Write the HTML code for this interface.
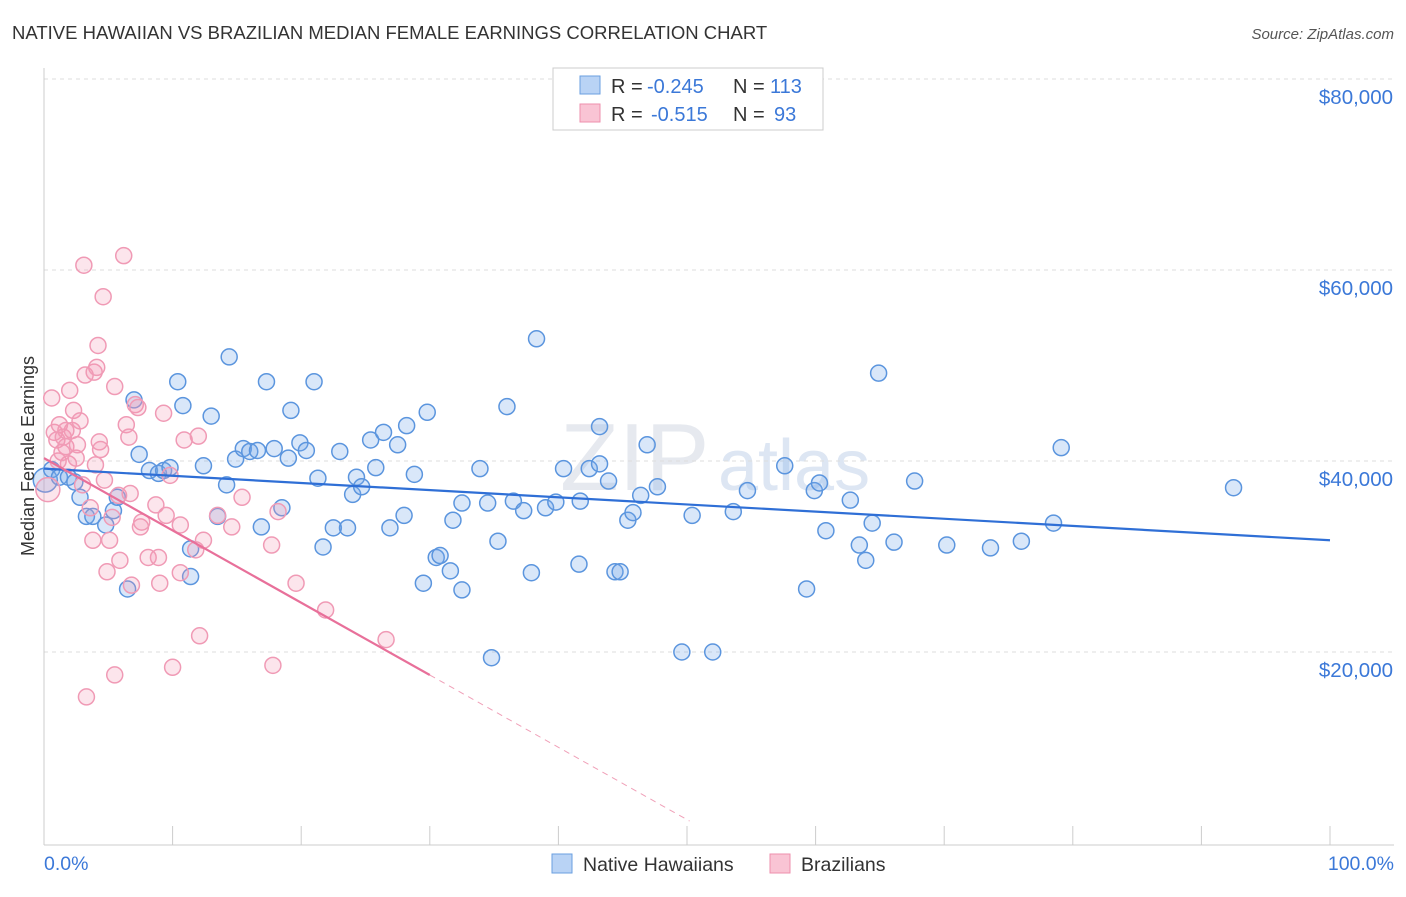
<!DOCTYPE html>
<html><head><meta charset="utf-8"><style>
body{margin:0;background:#fff;font-family:"Liberation Sans",sans-serif;}
svg text{font-family:"Liberation Sans",sans-serif;}
</style></head><body>
<svg width="1406" height="892" viewBox="0 0 1406 892" xmlns="http://www.w3.org/2000/svg">
<text x="12" y="39" font-size="18.5" fill="#333">NATIVE HAWAIIAN VS BRAZILIAN MEDIAN FEMALE EARNINGS CORRELATION CHART</text>
<text x="1394" y="39" font-size="15" fill="#555" font-style="italic" text-anchor="end">Source: ZipAtlas.com</text>
<text x="560" y="490" font-size="96" fill="#e6e9ef" font-family="Liberation Serif">ZIP</text>
<text x="718" y="490" font-size="72" fill="#dde6f3">atlas</text>
<g id="grid"></g>
<g id="axes"></g>
<g id="marks"></g>
<text transform="translate(34,456) rotate(-90)" font-size="18" fill="#333" text-anchor="middle">Median Female Earnings</text>
<text x="44" y="870" font-size="19.5" fill="#3b78d8">0.0%</text>
<text x="1394" y="870" font-size="19.5" fill="#3b78d8" text-anchor="end">100.0%</text>
<g>
<rect x="553" y="68" width="270" height="62" fill="#fff" stroke="#ccc"/>
<rect x="580" y="76" width="20" height="18" fill="#b9d3f5" stroke="#6a9fe0"/>
<rect x="580" y="104" width="20" height="18" fill="#f9c4d4" stroke="#ee8fad"/>
<text x="611" y="93" font-size="20" fill="#333">R =</text>
<text x="647" y="93" font-size="20" fill="#3b78d8">-0.245</text>
<text x="733" y="93" font-size="20" fill="#333">N =</text>
<text x="770" y="93" font-size="20" fill="#3b78d8">113</text>
<text x="611" y="121" font-size="20" fill="#333">R =</text>
<text x="651" y="121" font-size="20" fill="#3b78d8">-0.515</text>
<text x="733" y="121" font-size="20" fill="#333">N =</text>
<text x="774" y="121" font-size="20" fill="#3b78d8">93</text>
</g>
<g>
<rect x="552" y="854" width="20" height="19" fill="#b9d3f5" stroke="#6a9fe0"/>
<text x="583" y="871" font-size="19.5" fill="#333">Native Hawaiians</text>
<rect x="770" y="854" width="20" height="19" fill="#f9c4d4" stroke="#ee8fad"/>
<text x="801" y="871" font-size="19.5" fill="#333">Brazilians</text>
</g>
</svg>
<script>
const yTicks=[20000,40000,60000,80000];
const yTickLabels=["$20,000","$40,000","$60,000","$80,000"];
const xTicks=[0,10,20,30,40,50,60,70,80,90,100];
const blueX=[0.1,0.6,1.2,1.9,2.4,2.8,3.3,3.8,4.8,5.4,5.7,6.5,7.0,7.4,8.2,8.9,9.3,9.8,10.4,10.8,11.4,11.4,12.4,13.0,13.5,14.2,14.4,14.9,15.5,16.0,16.6,16.9,17.3,17.9,18.5,19.0,19.2,19.9,20.4,21.0,21.3,21.7,22.5,23.0,23.6,24.0,24.3,24.7,25.4,25.8,26.4,26.9,27.5,28.0,28.2,28.8,29.5,29.8,30.5,30.8,31.6,31.8,32.5,32.5,33.9,34.5,34.8,35.3,36.0,36.5,37.3,37.9,38.3,39.0,39.8,40.4,41.6,41.7,42.4,43.2,43.2,43.9,44.4,44.8,45.4,45.8,46.4,46.9,47.7,49.6,50.4,52.0,53.6,54.7,57.6,59.3,59.9,60.3,60.8,62.7,63.4,63.9,64.4,64.9,66.1,67.7,70.2,73.6,76.0,78.5,79.1,92.5];
const blueY=[38.0,39.1,38.3,38.3,37.8,36.2,34.2,34.2,33.3,34.8,36.2,26.6,46.4,40.7,39.0,38.7,39.0,39.3,48.3,45.8,30.8,27.9,39.5,44.7,34.2,37.5,50.9,40.2,41.3,41.0,41.1,33.1,48.3,41.3,35.1,40.3,45.3,41.9,41.1,48.3,38.2,31.0,33.0,41.0,33.0,36.5,38.3,37.3,42.2,39.3,43.0,33.0,41.7,34.3,43.7,38.6,27.2,45.1,29.9,30.1,28.5,33.8,26.5,35.6,39.2,35.6,19.4,31.6,45.7,35.8,34.8,28.3,52.8,35.1,35.7,39.2,29.2,35.8,39.2,39.7,43.6,37.9,28.4,28.4,33.8,34.6,36.4,41.7,37.3,20.0,34.3,20.0,34.7,36.9,39.5,26.6,36.9,37.7,32.7,35.9,31.2,29.6,33.5,49.2,31.5,37.9,31.2,30.9,31.6,33.5,41.4,37.2];
const pinkX=[0.3,0.6,0.8,1.0,1.2,1.5,1.7,1.9,2.0,2.2,2.3,2.5,2.6,2.8,3.0,3.1,3.2,3.3,3.6,3.8,3.9,4.0,4.1,4.2,4.3,4.4,4.6,4.7,4.9,5.1,5.3,5.5,5.5,5.8,5.9,6.2,6.4,6.6,6.7,6.8,7.1,7.3,7.5,7.6,8.1,8.7,8.9,9.0,9.3,9.5,9.8,10.0,10.6,10.6,10.9,11.8,12.0,12.1,12.4,13.5,14.6,15.4,17.7,17.8,18.2,19.6,21.9,26.6,1.1,1.4,1.7];
const pinkY=[37.0,46.6,43.0,42.2,43.8,42.5,41.5,39.7,47.4,43.2,45.3,40.3,41.7,44.2,37.5,60.5,49.0,15.3,35.1,31.7,49.3,39.6,49.8,52.1,42.0,41.2,57.2,38.0,28.4,31.7,34.1,17.6,47.8,36.4,29.6,61.5,43.8,42.5,36.6,27.0,45.9,45.6,33.1,33.6,29.9,35.4,29.9,27.2,45.0,34.3,38.5,18.4,28.3,33.3,42.2,30.7,42.6,21.7,31.7,34.3,33.1,36.2,31.2,18.6,34.7,27.2,24.4,21.3,40.0,40.9,43.2];
const blueTrend=[39.2,31.7];
const pinkTrend=[40.3,-0.757];
const pinkSolidEnd=30, pinkDashEnd=50.2;

const NS="http://www.w3.org/2000/svg";
const X=p=>44+p*12.86;
const Y=v=>843-v/20000*191;
function mk(tag,attrs,parent){const e=document.createElementNS(NS,tag);for(const k in attrs)e.setAttribute(k,attrs[k]);document.getElementById(parent).appendChild(e);return e;}
yTicks.forEach((t,i)=>{
  const l=mk('line',{x1:44,x2:1394,y1:Y(t),y2:Y(t),stroke:'#ddd','stroke-dasharray':'4,4'},'grid');
  
  
  const tx=mk('text',{x:1393,y:Y(t)+25,'font-size':20.5,fill:'#3b78d8','text-anchor':'end'},'axes');
  tx.textContent=yTickLabels[i];
  
  
});
const yAxisLine=mk('line',{x1:44,x2:44,y1:68,y2:845,stroke:'#ccc'},'axes');


const xAxisLine=mk('line',{x1:44,x2:1394,y1:845,y2:845,stroke:'#ccc'},'axes');


xTicks.forEach(t=>{
  const l=mk('line',{x1:X(t),x2:X(t),y1:826,y2:845,stroke:'#ccc'},'axes');
  
  
});
blueX.forEach((x,i)=>{
  const c=mk('circle',{cx:X(x),cy:Y(blueY[i]*1000),r:i==0?12:8,fill:'rgba(120,170,235,0.28)',stroke:'#5b95de','stroke-width':1.5},'marks');
  
  
});
pinkX.forEach((x,i)=>{
  const c=mk('circle',{cx:X(x),cy:Y(pinkY[i]*1000),r:i==0?12:8,fill:'rgba(245,150,180,0.25)',stroke:'#f09ab5','stroke-width':1.5},'marks');
  
  
});
const blueLine=mk('line',{x1:X(0),y1:Y(blueTrend[0]*1000),x2:X(100),y2:Y(blueTrend[1]*1000),stroke:'#2f6fd6','stroke-width':2.2},'marks');


const pv=p=>(pinkTrend[0]+pinkTrend[1]*p)*1000;
const pinkLine=mk('line',{x1:X(0),y1:Y(pv(0)),x2:X(pinkSolidEnd),y2:Y(pv(pinkSolidEnd)),stroke:'#e8709a','stroke-width':2.2},'marks');


const pinkDash=mk('line',{x1:X(pinkSolidEnd),y1:Y(pv(pinkSolidEnd)),x2:X(pinkDashEnd),y2:Y(pv(pinkDashEnd)),stroke:'#f0a0b8','stroke-width':1,'stroke-dasharray':'6,5'},'marks');


</script>
</body></html>
